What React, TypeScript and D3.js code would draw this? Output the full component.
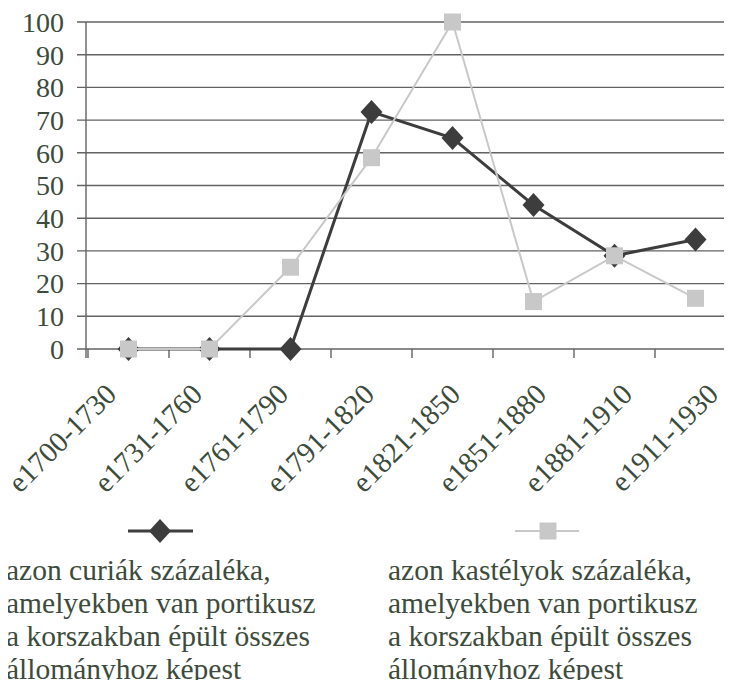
import React from "react";
import * as d3 from "d3";

// periods on the x axis
const periods = [
  "e1700-1730",
  "e1731-1760",
  "e1761-1790",
  "e1791-1820",
  "e1821-1850",
  "e1851-1880",
  "e1881-1910",
  "e1911-1930",
];
// curiák (dark diamonds)
const curiak = [0, 0, 0, 72.5, 64.5, 44, 28.5, 33.5];
// kastélyok (grey squares)
const kastelyok = [0, 0, 25, 58.5, 100, 14.5, 28.5, 15.5];
const yTicks = [0, 10, 20, 30, 40, 50, 60, 70, 80, 90, 100];

const legendLines = [
  "azon curiák százaléka,",
  "amelyekben van portikusz",
  "a korszakban épült összes",
  "állományhoz képest",
];
const legendLines2 = [
  "azon kastélyok százaléka,",
  "amelyekben van portikusz",
  "a korszakban épült összes",
  "állományhoz képest",
];

const W = 732;
const H = 688;
const textColor = "#3c4b3c";
const dark = "#3d3d3d";
const light = "#c8c8c8";
const gridColor = "#636363";
const fontStack = '"Liberation Serif", Tinos, "Times New Roman", Times, serif';

const diamondPath = "M0,-12L11,0L0,12L-11,0Z";

export default function App() {
  const x = d3.scaleBand<string>().domain(periods).range([88, 736]);
  const y = d3.scaleLinear().domain([0, 100]).range([349, 22]);
  // rotated labels sit on their own, slightly wider spacing
  const xLabel = d3.scalePoint<string>().domain(periods).range([118, 720]);
  const cx = (p: string) => (x(p) as number) + x.bandwidth() / 2;

  const line = d3
    .line<number>()
    .x((_, i) => cx(periods[i]))
    .y((d) => y(d));

  const square = d3.symbol().type(d3.symbolSquare).size(17 * 17)();

  return (
    <div style={{ margin: -8, fontFamily: fontStack }}>
      <svg
        width={W}
        height={H}
        style={{ display: "block", background: "#fff", fontFamily: fontStack }}
      >
        {/* gridlines */}
        {yTicks.map((t) => (
          <line key={t} x1={77} x2={732} y1={y(t)} y2={y(t)} stroke={gridColor} strokeWidth={1.4} />
        ))}
        {/* y axis */}
        <line x1={86} x2={86} y1={y(100)} y2={y(0) + 9} stroke={gridColor} strokeWidth={1.4} />
        {yTicks.map((t) => (
          <text key={t} x={64} y={y(t)} dy="0.35em" textAnchor="end" fontSize={28} fill={textColor}>
            {t}
          </text>
        ))}
        {/* x ticks */}
        {periods.map((p) => (
          <line
            key={p}
            x1={x(p) as number}
            x2={x(p) as number}
            y1={y(0)}
            y2={y(0) + 9}
            stroke={gridColor}
            strokeWidth={1.4}
          />
        ))}
        {periods.map((p) => (
          <text
            key={p}
            transform={`translate(${xLabel(p)},${y(0) + 47}) rotate(-45)`}
            textAnchor="end"
            fontSize={29}
            fill={textColor}
          >
            {p}
          </text>
        ))}

        {/* dark series */}
        <path d={line(curiak) as string} fill="none" stroke={dark} strokeWidth={3} />
        {curiak.map((v, i) => (
          <path
            key={i}
            d={diamondPath}
            transform={`translate(${cx(periods[i])},${y(v)})`}
            fill={dark}
          />
        ))}
        {/* grey series */}
        <path d={line(kastelyok) as string} fill="none" stroke={light} strokeWidth={2} />
        {kastelyok.map((v, i) => (
          <path
            key={i}
            d={square as string}
            transform={`translate(${cx(periods[i])},${y(v)})`}
            fill={light}
          />
        ))}

        {/* legend */}
        <line x1={128} x2={193} y1={531} y2={531} stroke={dark} strokeWidth={3} />
        <path d={diamondPath} transform="translate(160,531)" fill={dark} />
        <line x1={515} x2={579} y1={531} y2={531} stroke={light} strokeWidth={2} />
        <path d={square as string} transform="translate(548,531)" fill={light} />
        {legendLines.map((t, i) => (
          <text key={i} x={6} y={580 + i * 33} fontSize={29.5} fill={textColor}>
            {t}
          </text>
        ))}
        {legendLines2.map((t, i) => (
          <text key={i} x={388} y={580 + i * 33} fontSize={29.5} fill={textColor}>
            {t}
          </text>
        ))}
      </svg>
    </div>
  );
}
